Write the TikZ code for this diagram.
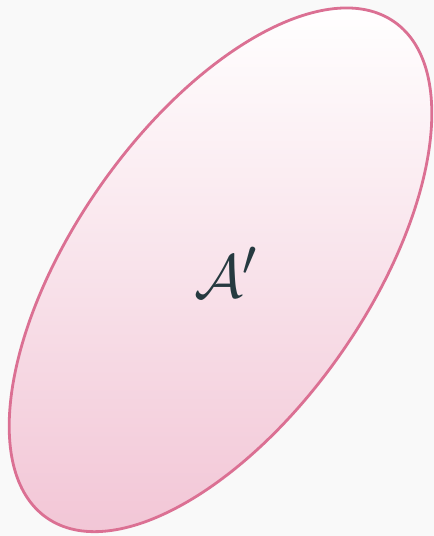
\documentclass[tikz,border=0pt]{standalone}
\usepackage{tikz}
\definecolor{bgc}{HTML}{F9F9F9}
\definecolor{edgec}{HTML}{DB7093}
\definecolor{fillbot}{HTML}{F2C6D6}
\definecolor{textc}{HTML}{263A40}
\tikzset{
  blobedge/.style={draw=edgec, line width=2.8pt},
  labeltext/.style={text=textc, inner sep=0pt, font=\Huge, scale=2.45}
}
\begin{document}
\begin{tikzpicture}[x=1pt,y=1pt]
\fill[bgc] (0,0) rectangle (434,536);
\useasboundingbox (0,0) rectangle (434,536);
\coordinate (c) at (220.5,266.2);
\begin{scope}
  \clip[rotate around={54.95:(c)}] (c) ellipse [x radius=302.8, y radius=146.6];
  \shade[top color=white, bottom color=fillbot] (0,3) rectangle (434,530);
\end{scope}
\draw[blobedge, rotate around={54.95:(c)}] (c) ellipse [x radius=302.8, y radius=146.6];
\node[labeltext] (lbl) at (226,264) {$\mathcal{A}'$};
\end{tikzpicture}
\end{document}
